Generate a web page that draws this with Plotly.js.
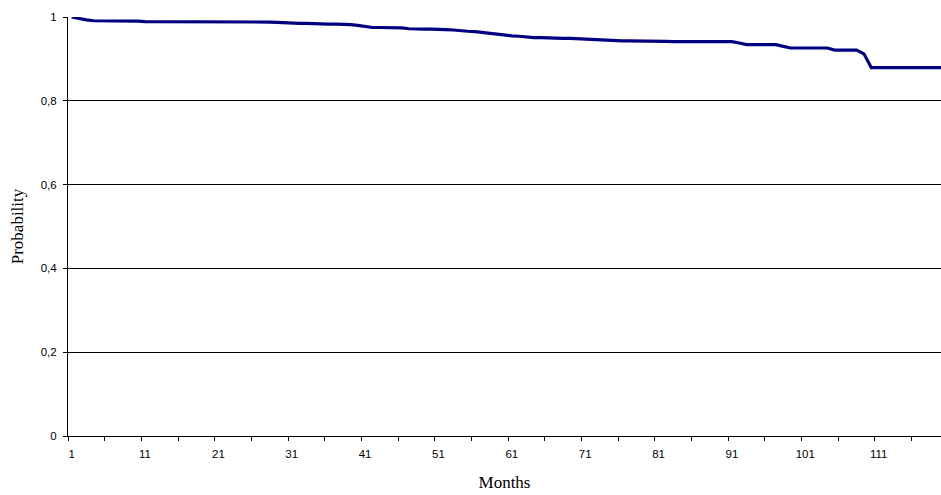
<!DOCTYPE html>
<html>
<head>
<meta charset="utf-8">
<script src="https://cdn.plot.ly/plotly-3.0.1.min.js"></script>
<style>html,body{margin:0;padding:0;background:#fff}#chart{width:941px;height:495px}</style>
</head>
<body>
<div id="chart"></div>
<script>
const months = [1,2,3,4,5,6,7,8,9,10,11,12,13,14,15,16,17,18,19,20,21,22,23,24,25,26,27,28,29,30,
31,32,33,34,35,36,37,38,39,40,41,42,43,44,45,46,47,48,49,50,51,52,53,54,55,56,57,58,59,60,
61,62,63,64,65,66,67,68,69,70,71,72,73,74,75,76,77,78,79,80,81,82,83,84,85,86,87,88,89,90,
91,92,93,94,95,96,97,98,99,100,101,102,103,104,105,106,107,108,109,110,111,112,113,114,115,116,117,118,119,120];
const probability = [1.000,0.996,0.993,0.991,0.991,0.990,0.990,0.990,0.990,0.990,
0.989,0.989,0.989,0.989,0.989,0.989,0.989,0.988,0.988,0.988,
0.988,0.988,0.988,0.988,0.988,0.988,0.988,0.988,0.987,0.986,
0.985,0.985,0.985,0.984,0.984,0.983,0.983,0.983,0.982,0.980,
0.977,0.975,0.975,0.975,0.975,0.974,0.972,0.971,0.971,0.971,
0.971,0.970,0.969,0.967,0.966,0.965,0.963,0.960,0.959,0.957,
0.955,0.954,0.952,0.951,0.951,0.950,0.950,0.949,0.949,0.948,
0.947,0.946,0.945,0.944,0.943,0.943,0.943,0.943,0.943,0.943,
0.943,0.942,0.941,0.941,0.941,0.941,0.941,0.941,0.941,0.941,
0.941,0.938,0.934,0.934,0.934,0.934,0.934,0.930,0.926,0.926,
0.926,0.926,0.926,0.926,0.921,0.921,0.921,0.921,0.912,0.879,
0.879,0.879,0.879,0.879,0.879,0.879,0.879,0.879,0.879,0.879];
const xTickLabels = ["1","11","21","31","41","51","61","71","81","91","101","111"];
const yTickVals = [0,0.2,0.4,0.6,0.8,1];
const xTitle = "Months";
const yTitle = "Probability";

// tick marks sit on category boundaries every 5 categories; labels sit on category centres every 10
const tickMarks = [], labelVals = [];
xTickLabels.forEach(function(l){
  const v = Number(l);
  labelVals.push(v);
  tickMarks.push(v - 0.5);
  tickMarks.push(v + 4.5);
});

const xRange = [0.5, 119.5];
const tickFont = {family: 'Liberation Sans, Arial, sans-serif', size: 11.5, color: '#000'};
const titleFont = {family: 'Liberation Serif, Times New Roman, serif', size: 17, color: '#000'};

const trace = {
  x: months, y: probability, type: 'scatter', mode: 'lines',
  line: {color: '#000080', width: 3.2, shape: 'linear'},
  hoverinfo: 'skip'
};

const layout = {
  width: 941, height: 495,
  margin: {l: 68, r: 0, t: 17, b: 59, pad: 0},
  paper_bgcolor: '#ffffff', plot_bgcolor: '#ffffff',
  separators: ',.',
  showlegend: false,
  font: tickFont,
  xaxis: {
    range: xRange, autorange: false,
    tickmode: 'array', tickvals: labelVals, ticktext: xTickLabels,
    ticks: '', ticklabelstandoff: 7,
    minor: {tickmode: 'array', tickvals: tickMarks, ticks: 'outside', ticklen: 4, tickwidth: 1, tickcolor: '#000', showgrid: false},
    showgrid: false, zeroline: false,
    showline: true, linecolor: '#000', linewidth: 1,
    tickfont: tickFont,
    title: {text: xTitle, standoff: 17, font: titleFont},
    automargin: false, fixedrange: true
  },
  yaxis: {
    range: [0, 1], autorange: false,
    tickmode: 'array', tickvals: yTickVals,
    ticks: 'outside', ticklen: 4, tickwidth: 1, tickcolor: '#000',
    ticklabelstandoff: 4,
    showgrid: true, gridcolor: '#000', gridwidth: 1,
    zeroline: false,
    showline: true, linecolor: '#000', linewidth: 1,
    tickfont: tickFont,
    title: {text: yTitle, standoff: 12, font: titleFont},
    automargin: false, fixedrange: true
  }
};

Plotly.newPlot('chart', [trace], layout, {staticPlot: true, displayModeBar: false});
</script>
</body>
</html>
